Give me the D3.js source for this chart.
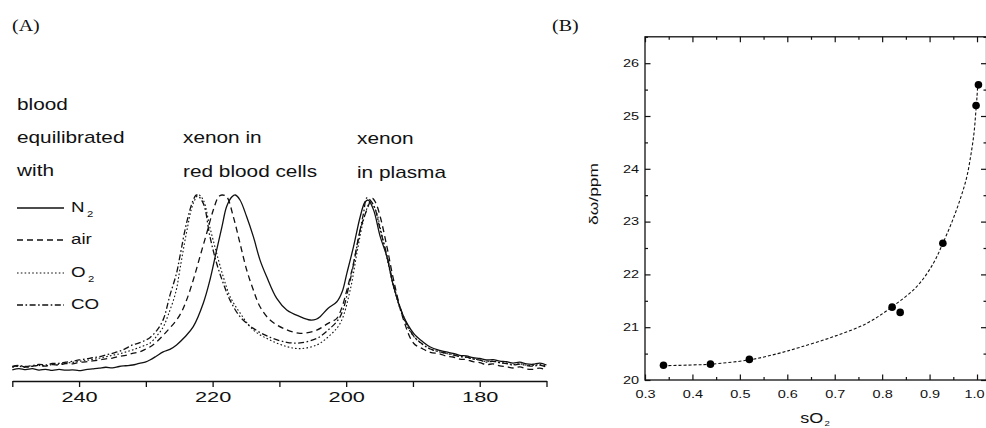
<!DOCTYPE html>
<html lang="en">
<head>
<meta charset="UTF-8">
<title>Xenon in blood</title>
<script src="https://d3js.org/d3.v7.min.js"></script>
<style>
  body { margin: 0; background: #fff; }
  svg { display: block; }
  text { font-family: "Liberation Sans", Arial, sans-serif; fill: #111; }
  text.serif { font-family: "Liberation Serif", "Times New Roman", serif; }
</style>
</head>
<body>
<svg width="986" height="428"></svg>
<script>
// ---------- panel A: 129Xe spectra, [ppm, intensity (peak = 100)]
var specN2 = [[250,6.0],[249,6.7],[248,6.1],[247,6.6],[246,5.9],[245,6.3],[244,5.7],[243,6.2],[242,5.8],[241,6.0],
  [240,5.6],[239,6.1],[238,6.5],[237,6.9],[236,7.4],[235,7.1],[234,7.8],[233,8.2],[232,8.6],[231,9.5],[230,10.3],
  [229.4,11.3],[228.5,13.2],[227.4,15.7],[226.4,17.0],[225.4,19.4],[224.2,23.5],[222.9,29.2],[221.4,41.8],
  [220.4,54.3],[219.4,70.4],[218.6,83],[217.9,93.8],[217.1,99.1],[216.6,100],[215.9,97.3],[214.9,88.3],
  [213.9,77.6],[212.9,65],[211.9,56],[210.4,44.4],[208.9,38.2],[206.9,34.6],[205.4,32.8],[204.5,33.2],
  [203.9,34.6],[202.7,39.1],[201.4,42.6],[200.6,48],[199.9,57.9],[198.9,72.2],[197.9,88.3],[197.2,96.1],
  [196.7,97.3],[195.9,92],[194.9,77.6],[193.9,66.8],[192.9,50.7],[191.4,34.6],[189.9,25.6],[188.5,21],
  [187.4,18.3],[186,16.5],[185,15.6],[184,14.9],[183,13.8],[182,13.5],[181,12.5],[180,12.1],[179,11.3],
  [178,11.5],[177,10.7],[176,10.4],[175,9.6],[174,10.1],[173,9.2],[172,9.0],[171,9.6],[170,8.6]];

var specAir = [[250,7.6],[249,8.2],[248,7.5],[247,7.9],[246,8.4],[245,8.0],[244,8.8],[243,8.6],[242,9.4],[241,9.2],
  [240,10.0],[239,10.3],[238,10.8],[237,11.3],[236,11.9],[235,12.3],[234,13.2],[233,13.8],[232,14.8],[231,15.6],
  [230,17.2],[229.4,18.3],[228.4,21],[227.4,24.6],[226.4,28.5],[225.4,32.8],[224.6,37.5],[223.9,43.5],
  [222.9,54.3],[221.9,66.8],[220.9,79.3],[219.9,91.9],[219.1,99.1],[218.6,100],[217.9,99.1],[216.9,88.3],
  [215.9,74],[214.9,59.7],[213.9,48.9],[212.9,39.9],[211.4,32.8],[209.4,28.3],[206.9,25.6],[204.4,27.4],
  [202.7,31],[201.4,33.7],[200.6,40],[199.9,48.9],[198.9,63.3],[197.9,81.2],[196.9,92],[196.1,98.2],
  [195.6,96],[194.9,88.3],[193.9,72.2],[192.9,54.3],[191.4,32.8],[189.9,20.3],[188.5,17.2],[187.4,15.4],
  [186,14.6],[185,13.4],[184,12.9],[183,11.8],[182,11.5],[181,10.4],[180,9.9],[179,8.8],[178,9.2],[177,8.1],
  [176,7.7],[175,7.0],[174,7.6],[173,6.5],[172,6.3],[171,6.9],[170,5.9]];

var specO2 = [[250,7.4],[249,7.9],[248,7.3],[247,8.0],[246,8.3],[245,8.1],[244,8.9],[243,9.0],[242,9.6],[241,10.0],
  [240,10.6],[239,11.0],[238,11.6],[237,12.2],[236,13.0],[235,13.8],[234,14.6],[233,15.6],[232,16.7],[231,18.0],
  [230,19.4],[229.4,20.3],[228.4,24],[227.4,29],[226.6,36],[225.5,48],[224.9,60],[223.9,80],[222.9,95.5],
  [222.1,100],[221.4,97.3],[220.4,82.5],[219.4,68.7],[218.4,56],[217.4,45.5],[215.9,36.6],[213.9,27.4],
  [211.4,22],[208.9,18.5],[206.9,17.4],[204.4,19.4],[202.7,23.7],[200.9,31],[199.4,48.9],[198.4,68.7],
  [197.4,86.6],[196.7,94.6],[196.4,96.5],[195.6,92],[194.6,77.6],[192.9,50.7],[191.4,33.5],[189.9,24],
  [188.5,19.5],[187.4,17.2],[186,15.6],[185,14.8],[184,14.2],[183,13.1],[182,12.7],[181,11.8],[180,11.3],
  [179,10.4],[178,10.7],[177,9.9],[176,9.6],[175,8.8],[174,9.3],[173,8.5],[172,8.3],[171,8.8],[170,7.9]];

var specCO = [[250,7.8],[249,8.4],[248,7.8],[247,8.3],[246,8.9],[245,8.6],[244,9.4],[243,9.5],[242,10.1],[241,10.6],
  [240,11.3],[239,11.8],[238,12.5],[237,13.1],[236,14.0],[235,14.9],[234,15.9],[233,17.5],[232,19.4],[231,20.5],
  [230,22.0],[229.4,23.3],[228.4,27],[227.4,33],[226.4,46],[225.4,58],[224.9,67],[223.9,85],[222.9,97.3],
  [222.4,100],[221.4,95.5],[220.4,77.6],[219.4,63.3],[218.4,52.5],[217.4,43.5],[215.9,34.6],[213.9,28.3],
  [211.4,23.5],[208.9,20.8],[206.9,20.5],[204.4,22.9],[202.7,27.4],[200.9,34.6],[199.4,54.3],[198.4,72.2],
  [197.4,90.2],[196.9,98.4],[195.9,94.6],[194.9,81.2],[193.9,67.7],[192.9,51.6],[191.4,34.6],[189.9,24.2],
  [188.5,19.6],[187.4,17.2],[186,15.8],[185,14.9],[184,14.0],[183,13.2],[182,12.9],[181,11.9],[180,11.2],
  [179,10.2],[178,10.6],[177,9.8],[176,9.4],[175,8.6],[174,9.1],[173,8.3],[172,8.0],[171,8.5],[170,7.5]];

var gasNames = ["N", "air", "O", "CO"];
var gasSubs = ["2", "", "2", ""];
var gasDash = [null, "6,4", "1.6,2.2", "6,2.5,1.6,2.5"];
var ppmTicks = [250, 240, 230, 220, 210, 200, 190, 180, 170];
var ppmLabels = [240, 220, 200, 180];

// ---------- panel B: shift vs oxygen saturation
var sO2 = [0.339, 0.438, 0.520, 0.821, 0.838, 0.928, 0.998, 1.003];
var shiftPpm = [20.28, 20.30, 20.39, 21.38, 21.28, 22.59, 25.20, 25.59];
var fitS = [0.339, 0.40, 0.438, 0.519, 0.58, 0.627, 0.697, 0.767, 0.82, 0.873, 0.908, 0.928, 0.947, 0.964,
  0.978, 0.987, 0.9937, 0.9975, 1.0, 1.0015];
var fitShift = [20.27, 20.285, 20.30, 20.38, 20.5, 20.62, 20.82, 21.07, 21.38, 21.77, 22.21, 22.59, 22.99, 23.41,
  23.83, 24.26, 24.68, 25.08, 25.37, 25.59];
var sTicks = [0.3, 0.4, 0.5, 0.6, 0.7, 0.8, 0.9, 1.0];
var sMinor = [0.35, 0.45, 0.55, 0.65, 0.75, 0.85, 0.95];
var shiftTicks = [20, 21, 22, 23, 24, 25, 26];
var shiftMinor = [20.5, 21.5, 22.5, 23.5, 24.5, 25.5, 26.5];

var svg = d3.select("svg");

// glyphs in the scan are stretched sideways, so text gets a horizontal scale
function label(x, y, str, size, sx, anchor, cls) {
  return svg.append("text")
    .attr("class", cls || null)
    .attr("transform", "translate(" + x + "," + y + ") scale(" + sx + ",1)")
    .attr("font-size", size)
    .attr("text-anchor", anchor || "start")
    .text(str);
}

// ================= (A)
var xA = d3.scaleLinear().domain([250, 170]).range([12.3, 546.5]);
var yA = d3.scaleLinear().domain([0, 100]).range([381, 195]);

var axA = svg.append("g")
  .attr("transform", "translate(0," + yA(0) + ")")
  .call(d3.axisBottom(xA).tickValues(ppmTicks).tickSize(6).tickSizeOuter(0).tickPadding(4)
    .tickFormat(function(d) { return ppmLabels.indexOf(d) >= 0 ? d : ""; }));
axA.attr("font-family", null);
axA.selectAll("path, line").attr("stroke", "#111").attr("stroke-width", 1.3);
axA.selectAll("text").attr("font-size", 15).attr("fill", "#111").attr("transform", "scale(1.45,1)");

var lineA = d3.line()
  .x(function(d) { return xA(d[0]); })
  .y(function(d) { return yA(d[1]); })
  .curve(d3.curveCatmullRom.alpha(0.5));

[specN2, specAir, specO2, specCO].forEach(function(s, i) {
  svg.append("path")
    .datum(s)
    .attr("d", lineA)
    .attr("fill", "none")
    .attr("stroke", "#111")
    .attr("stroke-width", i === 2 ? 1.1 : 1.3)
    .attr("stroke-dasharray", gasDash[i]);
});

label(12, 31, "(A)", 16, 1.25, "start", "serif");
label(17, 110, "blood", 16, 1.3);
label(17, 143, "equilibrated", 16, 1.3);
label(17, 176, "with", 16, 1.3);
label(183, 143, "xenon in", 16, 1.3);
label(183, 177, "red blood cells", 16, 1.3);
label(357, 144, "xenon", 16, 1.3);
label(357, 178, "in plasma", 16, 1.3);

// legend
var legY = [208, 240, 273, 305];
gasNames.forEach(function(n, i) {
  svg.append("line")
    .attr("x1", 17).attr("x2", 64)
    .attr("y1", legY[i]).attr("y2", legY[i])
    .attr("stroke", "#111")
    .attr("stroke-width", i === 2 ? 1.1 : 1.3)
    .attr("stroke-dasharray", gasDash[i]);
  var t = label(71, legY[i] + 4, n, 15, 1.25);
  if (gasSubs[i]) {
    t.append("tspan").attr("font-size", 9).attr("dx", 2).attr("dy", 5).text(gasSubs[i]);
  }
});

// ================= (B)
var xB = d3.scaleLinear().domain([0.3, 1.02]).range([645, 986.5]);
var yB = d3.scaleLinear().domain([20, 26.5]).range([380, 36.8]);
var sxB = 1.45;

svg.append("rect")
  .attr("x", xB(0.3)).attr("y", yB(26.5))
  .attr("width", xB(1.02) - xB(0.3)).attr("height", yB(20) - yB(26.5))
  .attr("fill", "none").attr("stroke", "#111").attr("stroke-width", 1.3);

function frameAxis(axis, tx, ty, fmt, size, pad) {
  var g = svg.append("g")
    .attr("transform", "translate(" + tx + "," + ty + ")")
    .call(axis.tickSizeInner(-size).tickSizeOuter(0).tickPadding(pad || 3).tickFormat(fmt || ""));
  g.attr("font-family", null);
  g.select(".domain").remove();
  g.selectAll("line").attr("stroke", "#111").attr("stroke-width", 1.2);
  g.selectAll("text").attr("font-size", 10).attr("fill", "#111").attr("transform", "scale(" + sxB + ",1)");
  return g;
}

var axBottom = frameAxis(d3.axisBottom(xB).tickValues(sTicks), 0, yB(20), d3.format(".1f"), 5.5, 11);
// the last label sits at the page edge: nudge it in so it stays readable
axBottom.selectAll("text").filter(function(d) { return d === 1.0; }).attr("x", -3 / sxB);
frameAxis(d3.axisBottom(xB).tickValues(sMinor), 0, yB(20), null, 3);
frameAxis(d3.axisTop(xB).tickValues(sTicks), 0, yB(26.5), null, 5.5);
frameAxis(d3.axisTop(xB).tickValues(sMinor), 0, yB(26.5), null, 3);
frameAxis(d3.axisLeft(yB).tickValues(shiftTicks), xB(0.3), 0, d3.format("d"), 5.5, 6 / sxB);
frameAxis(d3.axisLeft(yB).tickValues(shiftMinor), xB(0.3), 0, null, 3);
frameAxis(d3.axisRight(yB).tickValues(shiftTicks), xB(1.02), 0, null, 5.5);
frameAxis(d3.axisRight(yB).tickValues(shiftMinor), xB(1.02), 0, null, 3);

var fitLine = d3.line()
  .x(function(d) { return xB(d[0]); })
  .y(function(d) { return yB(d[1]); })
  .curve(d3.curveCatmullRom.alpha(0.5));

svg.append("path")
  .datum(d3.zip(fitS, fitShift))
  .attr("d", fitLine)
  .attr("fill", "none")
  .attr("stroke", "#111")
  .attr("stroke-width", 1.1)
  .attr("stroke-dasharray", "3,2");

svg.selectAll("circle.pt")
  .data(d3.zip(sO2, shiftPpm))
  .join("circle")
  .attr("class", "pt")
  .attr("cx", function(d) { return xB(d[0]); })
  .attr("cy", function(d) { return yB(d[1]); })
  .attr("r", 3.8)
  .attr("fill", "#000");

label(552, 31, "(B)", 16, 1.25, "start", "serif");
var sl = label(815, 423, "sO", 15, 1.2, "middle");
sl.append("tspan").attr("font-size", 8).attr("dx", 1).attr("dy", 3).text("2");
svg.append("text")
  .attr("transform", "translate(598,194) rotate(-90) scale(1.45,1)")
  .attr("font-size", 12)
  .attr("text-anchor", "middle")
  .text("δω/ppm");
</script>
</body>
</html>
